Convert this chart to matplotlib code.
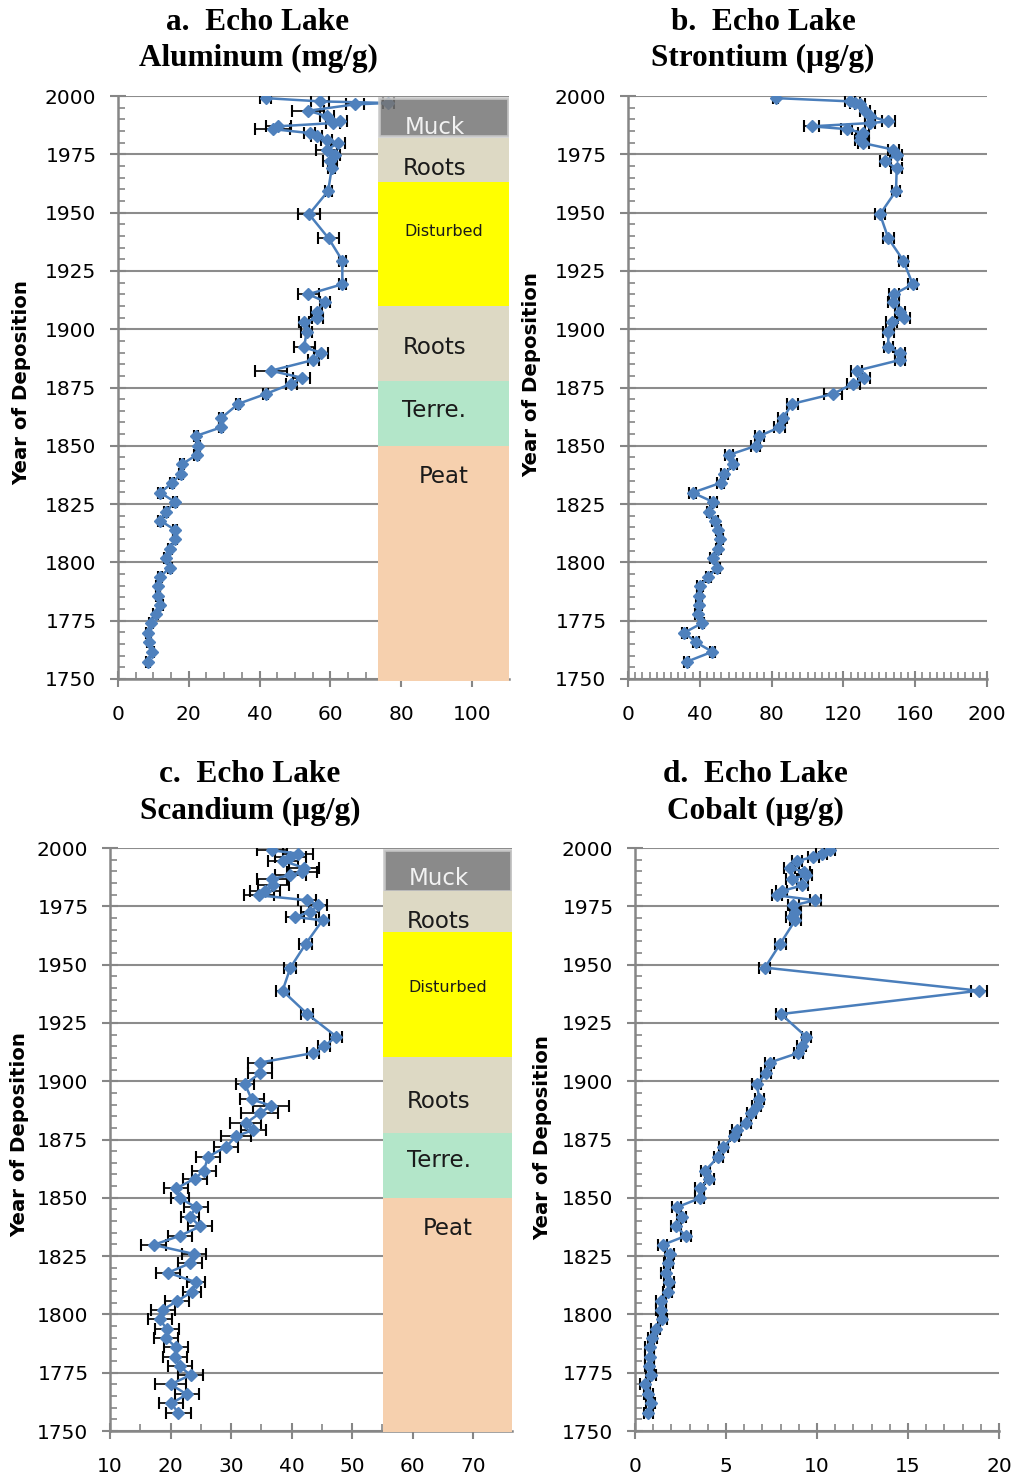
import matplotlib
matplotlib.use('Agg')
import matplotlib.pyplot as plt
from matplotlib.ticker import MultipleLocator
from matplotlib.patches import Rectangle

W, H = 1016, 1482

# --- data ---
years_ab = [1999.1, 1997.7, 1997.0, 1996.4, 1993.7, 1991.3, 1989.1, 1988.4, 1987.0, 1985.8,
            1984.1, 1982.7, 1981.3, 1979.8, 1977.0, 1974.8, 1972.0, 1969.0, 1959.3, 1949.3,
            1939.0, 1929.4, 1919.3, 1915.0, 1911.8, 1907.5, 1904.8, 1903.0, 1899.0, 1892.2,
            1890.0, 1886.8, 1882.2, 1879.2, 1876.6, 1872.2, 1868.0, 1861.8, 1857.9, 1854.2,
            1850.0, 1846.1, 1842.0, 1837.8, 1834.1, 1829.9, 1825.9, 1821.8, 1817.9, 1813.9,
            1809.9, 1805.7, 1801.7, 1797.8, 1793.8, 1789.9, 1785.7, 1781.7, 1777.7, 1773.9,
            1769.9, 1765.7, 1761.7, 1757.4]

aluminum = [41.7, 57.0, 76.4, 67.0, 53.8, 59.0, 62.7, 60.8, 45.3, 43.7,
            54.2, 56.1, 59.0, 62.2, 59.0, 61.3, 59.9, 60.4, 59.4, 54.0,
            59.5, 63.4, 63.4, 53.8, 58.5, 56.1, 56.3, 52.6, 53.3, 52.6,
            57.3, 55.2, 43.2, 51.9, 49.0, 41.7, 34.0, 29.1, 29.1, 22.0,
            22.7, 22.2, 18.0, 17.7, 15.3, 12.0, 16.1, 13.6, 12.0, 16.1,
            16.1, 14.7, 13.7, 14.7, 11.9, 11.2, 11.2, 12.0, 10.6, 9.3,
            8.4, 8.8, 9.7, 8.4]
aluminum_err = [1.5, 2.5, 1.5, 2.5, 4.5, 2.0, 2.0, 2.0, 3.5, 5.0,
                1.5, 1.5, 1.5, 2.0, 3.0, 1.5, 2.0, 1.0, 1.0, 3.0,
                3.0, 1.0, 1.0, 3.0, 1.5, 1.5, 1.5, 1.5, 1.5, 3.0,
                2.0, 1.5, 4.5, 2.5, 1.5, 0.8, 0.6, 0.6, 0.6, 0.6,
                0.6, 0.6, 0.6, 0.6, 0.6, 0.6, 0.6, 0.6, 0.6, 0.6,
                0.6, 0.6, 0.6, 0.6, 0.6, 0.6, 0.6, 0.6, 0.6, 0.6,
                0.6, 0.6, 0.6, 0.6]

strontium = [82.3, 123.7, 126.5, 129.2, 132.0, 134.8, 145.0, 134.8, 102.3, 121.8,
             131.0, 130.0, 129.2, 131.0, 147.8, 149.7, 143.2, 149.7, 149.3, 140.4,
             145.0, 153.4, 158.6, 148.2, 147.8, 151.5, 153.8, 146.9, 145.0, 145.0,
             151.5, 151.5, 127.4, 131.5, 125.5, 114.0, 91.5, 86.2, 84.3, 73.2,
             71.3, 56.3, 58.7, 53.7, 51.6, 36.0, 47.5, 45.3, 48.5, 50.3,
             51.3, 50.3, 47.2, 49.8, 44.7, 40.1, 39.7, 39.6, 38.8, 41.1,
             31.4, 37.9, 47.0, 32.7]
strontium_err = [1.5, 3.0, 3.0, 3.0, 3.0, 3.0, 3.5, 3.0, 4.0, 3.0,
                 3.0, 3.0, 3.0, 3.0, 3.0, 3.0, 3.0, 3.0, 2.0, 3.0,
                 3.0, 2.5, 2.5, 3.0, 3.0, 3.0, 3.5, 3.0, 3.0, 2.5,
                 3.0, 3.0, 3.0, 3.5, 3.5, 5.0, 3.0, 2.5, 3.0, 2.5,
                 2.5, 2.0, 2.0, 2.0, 2.0, 2.0, 2.0, 1.5, 1.5, 1.5,
                 1.5, 1.5, 1.5, 1.5, 1.5, 1.5, 1.5, 1.5, 1.5, 1.5,
                 1.5, 1.5, 1.5, 1.5]

years_cd = [1999.0, 1997.6, 1996.1, 1994.5, 1991.5, 1989.8, 1988.3, 1986.8, 1984.0, 1981.5,
            1979.7, 1977.6, 1975.4, 1972.6, 1970.4, 1969.0, 1958.8, 1948.7, 1938.8, 1928.8,
            1919.1, 1915.1, 1912.1, 1908.0, 1903.4, 1898.7, 1892.2, 1889.5, 1886.2, 1881.9,
            1879.1, 1876.4, 1871.9, 1867.6, 1861.6, 1858.2, 1854.0, 1849.8, 1845.9, 1841.9,
            1837.7, 1833.7, 1829.8, 1825.9, 1821.9, 1817.9, 1813.8, 1809.7, 1805.8, 1801.9,
            1797.9, 1793.7, 1789.7, 1785.9, 1781.8, 1777.8, 1774.0, 1770.0, 1765.7, 1761.8,
            1757.8]

scandium = [36.7, 41.1, 39.8, 38.6, 42.0, 41.7, 39.8, 36.7, 37.0, 35.6,
            34.6, 42.6, 44.4, 43.0, 40.6, 45.1, 42.3, 39.8, 38.5, 42.6,
            47.4, 45.4, 43.6, 34.8, 34.8, 32.3, 33.4, 36.6, 34.7, 32.4,
            33.7, 30.8, 29.2, 26.2, 25.5, 24.0, 20.9, 21.6, 24.2, 23.2,
            24.9, 21.5, 17.2, 23.9, 23.2, 19.6, 24.2, 23.6, 21.1, 18.7,
            18.2, 19.4, 19.3, 20.9, 20.7, 21.5, 23.3, 20.0, 22.7, 20.1,
            21.3]
scandium_err = [2.5, 2.5, 2.5, 2.5, 2.5, 2.5, 2.5, 2.5, 2.5, 2.5,
                2.5, 1.5, 1.5, 1.5, 1.5, 1.0, 1.0, 1.0, 1.0, 1.0,
                1.0, 1.0, 1.0, 2.0, 2.0, 1.5, 2.0, 3.0, 3.0, 2.5,
                2.0, 2.5, 2.0, 2.0, 2.0, 2.0, 2.0, 1.5, 2.0, 1.5,
                2.0, 2.0, 2.0, 2.0, 2.0, 2.0, 1.5, 1.5, 2.0, 2.0,
                2.0, 2.0, 2.0, 2.0, 2.0, 2.0, 2.0, 2.5, 2.0, 2.0,
                2.0]

cobalt = [10.7, 10.26, 9.8, 8.9, 8.5, 9.3, 9.4, 8.6, 9.2, 8.06,
          7.8, 9.9, 8.7, 8.8, 8.6, 8.8, 7.97, 7.14, 18.9, 8.02,
          9.4, 9.16, 8.97, 7.4, 7.2, 6.7, 6.83, 6.7, 6.4, 6.1,
          5.6, 5.45, 4.85, 4.58, 3.85, 4.08, 3.55, 3.55, 2.29, 2.56,
          2.25, 2.8, 1.52, 1.92, 1.83, 1.68, 1.87, 1.79, 1.43, 1.43,
          1.5, 1.14, 0.95, 0.82, 0.82, 0.79, 0.88, 0.55, 0.73, 0.86,
          0.73]
cobalt_err = [0.3] * 18 + [0.45] + [0.25] * 42

# sediment description bands: (label, top year, bottom year, colour, label year)
bands_a = [('Muck', 1999.2, 1983.0, '#767676', 1986.3), ('Roots', 1982.0, 1963.0, '#DDD9C4', 1969.0),
           ('Disturbed', 1963.0, 1910.0, '#FFFF00', 1942.0), ('Roots', 1910.0, 1878.0, '#DDD9C4', 1892.0),
           ('Terre.', 1878.0, 1850.0, '#B3E6C9', 1865.0), ('Peat', 1850.0, 1749.0, '#F6D0AE', 1837.0)]
bands_c = [('Muck', 1999.2, 1981.5, '#767676', 1987.0), ('Roots', 1981.5, 1964.0, '#DDD9C4', 1968.5),
           ('Disturbed', 1964.0, 1910.5, '#FFFF00', 1940.0), ('Roots', 1910.5, 1878.0, '#DDD9C4', 1891.5),
           ('Terre.', 1878.0, 1850.0, '#B3E6C9', 1866.0), ('Peat', 1850.0, 1749.5, '#F6D0AE', 1837.0)]

BLUE = '#4A7EBB'
AXIS_GREY = '#868686'

fig = plt.figure(figsize=(W / 100, H / 100), dpi=100)


def px_axes(left, right, top, bottom):
    return [left / W, 1 - bottom / H, (right - left) / W, (bottom - top) / H]


def draw_panel(rect, xvals, xerr, years, xlim, xminor, xticks):
    ax = fig.add_axes(rect)
    ax.set_xlim(*xlim)
    ax.set_ylim(1750, 2000)
    ax.yaxis.set_major_locator(MultipleLocator(25))
    ax.yaxis.set_minor_locator(MultipleLocator(5))
    ax.set_xticks(xticks)
    ax.xaxis.set_minor_locator(MultipleLocator(xminor))
    for s in ['top', 'right']:
        ax.spines[s].set_visible(False)
    for s in ['left', 'bottom']:
        ax.spines[s].set_color(AXIS_GREY)
        ax.spines[s].set_linewidth(1.8)
    ax.tick_params(which='major', direction='inout', length=11, width=1.5, color=AXIS_GREY,
                   labelsize=14.5)
    ax.tick_params(which='minor', direction='in', length=5, width=1.2, color=AXIS_GREY)
    ax.tick_params(axis='y', which='major', pad=10)
    ax.tick_params(axis='x', which='major', pad=13)
    ax.grid(axis='y', which='major', color='#8C8C8C', linewidth=1.5, zorder=0)
    ax.set_axisbelow(True)
    ax.errorbar(xvals, years, xerr=xerr, fmt='none', ecolor='black', elinewidth=1.2,
                capsize=4.5, capthick=1.5, zorder=3)
    ax.plot(xvals, years, color=BLUE, lw=1.8, marker='D', markersize=6.2,
            markerfacecolor='#4F81BD', markeredgecolor='#4F81BD', zorder=4)
    ax.patch.set_alpha(0)
    return ax


def draw_bands(ax, bands, x0, x1):
    xc = (x0 + x1) / 2
    dx = (x1 - x0) / 37.0
    for label, top, bot, col, ly in bands:
        if label == 'Muck':
            r = Rectangle((x0 + 0.3 * dx, bot), (x1 - x0) - 0.6 * dx, top - bot,
                          facecolor=col, edgecolor='#C8C8C8', lw=2, alpha=0.85, zorder=6)
            ax.add_patch(r)
            ax.text(xc - 2.5 * dx, ly, label, color='#F2F2F2', fontsize=16.5,
                    ha='center', va='center', zorder=6.5)
        else:
            r = Rectangle((x0, bot), x1 - x0, top - bot, facecolor=col, edgecolor='none',
                          zorder=7, clip_on=False)
            ax.add_patch(r)
            fs = 11.5 if label == 'Disturbed' else 16.5
            shift = 0 if label in ('Peat', 'Disturbed') else -2.5 * dx
            ax.text(xc + shift, ly, label, color='#1A1A1A', fontsize=fs,
                    ha='center', va='center', zorder=8)


ax_a = draw_panel(px_axes(118, 509, 96, 679), aluminum, aluminum_err, years_ab,
                  (0, 110.5), 5, [0, 20, 40, 60, 80, 100])
draw_bands(ax_a, bands_a, 73.4, 110.5)

ax_b = draw_panel(px_axes(628, 987, 96, 679), strontium, strontium_err, years_ab,
                  (0, 200), 4, [0, 40, 80, 120, 160, 200])

ax_c = draw_panel(px_axes(110, 512, 848, 1431), scandium, scandium_err, years_cd,
                  (10, 76.4), 5, [10, 20, 30, 40, 50, 60, 70])
draw_bands(ax_c, bands_c, 55.1, 76.4)

ax_d = draw_panel(px_axes(635, 999, 848, 1431), cobalt, cobalt_err, years_cd,
                  (0, 20), 1, [0, 5, 10, 15, 20])

titles = [('a.  Echo Lake', 'Aluminum (mg/g)', 258, 22),
          ('b.  Echo Lake', 'Strontium (µg/g)', 763, 22),
          ('c.  Echo Lake', 'Scandium (µg/g)', 250, 775),
          ('d.  Echo Lake', 'Cobalt (µg/g)', 755, 775)]
for l1, l2, x, y in titles:
    fig.text(x / W, 1 - y / H, l1, ha='center', va='center', fontsize=22.5,
             fontweight='bold', family='Liberation Serif')
    fig.text(x / W, 1 - (y + 36) / H, l2, ha='center', va='center', fontsize=22.5,
             fontweight='bold', family='Liberation Serif')

for x, y in [(22, 383), (532, 375), (20, 1135), (543, 1138)]:
    fig.text(x / W, 1 - y / H, 'Year of Deposition', rotation=90, ha='center', va='center',
             fontsize=14.2, fontweight='bold')

fig.savefig('out.png', dpi=100)
